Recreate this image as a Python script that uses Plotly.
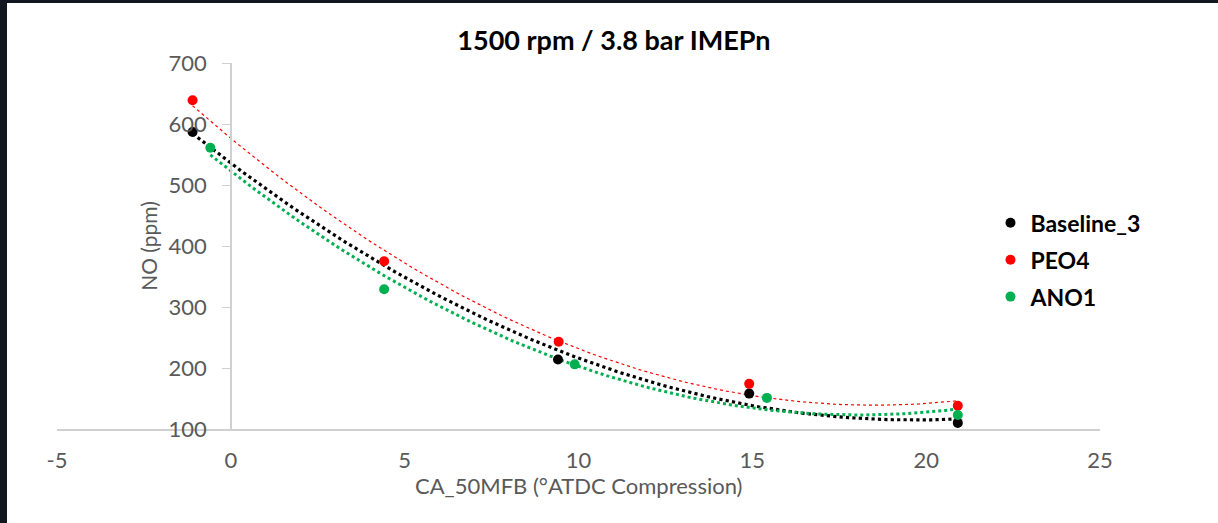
import numpy as np
import plotly.graph_objects as go

# ---- data ----
baseline_x = [-1.1, 9.41, 14.91, 20.91]
baseline_y = [587, 214, 158, 110]

peo4_x = [-1.1, 4.41, 9.43, 14.91, 20.91]
peo4_y = [639, 375, 243, 174, 138]

ano1_x = [-0.59, 4.41, 9.89, 15.42, 20.91]
ano1_y = [561, 329, 206, 151, 123]

x_tickvals = [-5, 0, 5, 10, 15, 20, 25]
x_ticktext = ["-5", "0", "5", "10", "15", "20", "25"]
y_tickvals = [100, 200, 300, 400, 500, 600, 700]

series = [
    ("Baseline_3", baseline_x, baseline_y, "#000000", 3.2),
    ("PEO4", peo4_x, peo4_y, "#FF0000", 1.2),
    ("ANO1", ano1_x, ano1_y, "#00B050", 3.0),
]

fig = go.Figure()

# order-2 polynomial trendlines (as Excel does)
for name, xs, ys, col, w in series:
    c = np.polyfit(xs, ys, 2)
    tx = np.linspace(min(xs), max(xs), 120)
    fig.add_trace(go.Scatter(x=tx, y=np.polyval(c, tx), mode="lines",
                             line=dict(color=col, width=w, dash="dot"),
                             showlegend=False, hoverinfo="skip"))

for name, xs, ys, col, w in series:
    fig.add_trace(go.Scatter(x=xs, y=ys, mode="markers", name=name,
                             legendgroup=name,
                             marker=dict(color=col, size=10)))

font_family = "Lato, 'Open Sans', sans-serif"
grey = "#595959"
axis_col = "#D0D0D0"

fig.update_layout(
    width=1218, height=523,
    margin=dict(l=57, r=118, t=63, b=94),
    paper_bgcolor="white", plot_bgcolor="white",
    font=dict(family=font_family, color=grey, size=22),
    title=dict(text="<b>1500 rpm / 3.8 bar IMEPn</b>", x=0.504, xanchor="center",
               y=0.923, yanchor="middle",
               font=dict(family=font_family, size=27, color="#000000")),
    showlegend=True,
    legend=dict(x=0.895, y=0.622, xanchor="left", yanchor="top",
                font=dict(family=font_family, size=23, color="#000000", weight="bold"),
                bgcolor="rgba(0,0,0,0)", itemwidth=30, tracegroupgap=4),
    xaxis=dict(range=[-5, 25], tickvals=x_tickvals, ticktext=x_ticktext,
               showgrid=False, zeroline=False, showline=True, linecolor=axis_col,
               linewidth=1.5, ticks="", ticklabelstandoff=11,
               tickfont=dict(size=22, color=grey)),
    yaxis=dict(range=[100, 700], tickvals=y_tickvals,
               anchor="free", position=5 / 30,
               showgrid=False, zeroline=False, showline=True, linecolor=axis_col,
               linewidth=1.5, ticks="outside", ticklen=8, tickcolor=axis_col,
               ticklabelstandoff=11,
               tickfont=dict(size=22, color=grey),
               title=dict(text="NO (ppm)", standoff=4,
                          font=dict(size=21, color=grey))),
    annotations=[dict(text="CA_50MFB (°ATDC Compression)", xref="paper", yref="paper",
                      x=0.5, y=-(485 - 429) / 366, xanchor="center", yanchor="middle",
                      showarrow=False, font=dict(size=22, color=grey))],
)

# dark frame strips at top and left of the screenshot
fig.add_shape(type="rect", xref="paper", yref="paper",
              x0=-57 / 1043, x1=-50 / 1043, y0=-94 / 366, y1=(366 + 63) / 366,
              fillcolor="#131820", line_width=0, layer="above")
fig.add_shape(type="rect", xref="paper", yref="paper",
              x0=-57 / 1043, x1=(1043 + 118) / 1043, y0=(366 + 60) / 366, y1=(366 + 63) / 366,
              fillcolor="#131820", line_width=0, layer="above")

fig.write_html("out.html", config={"displayModeBar": False},
               post_script="document.body.style.margin='0';")
